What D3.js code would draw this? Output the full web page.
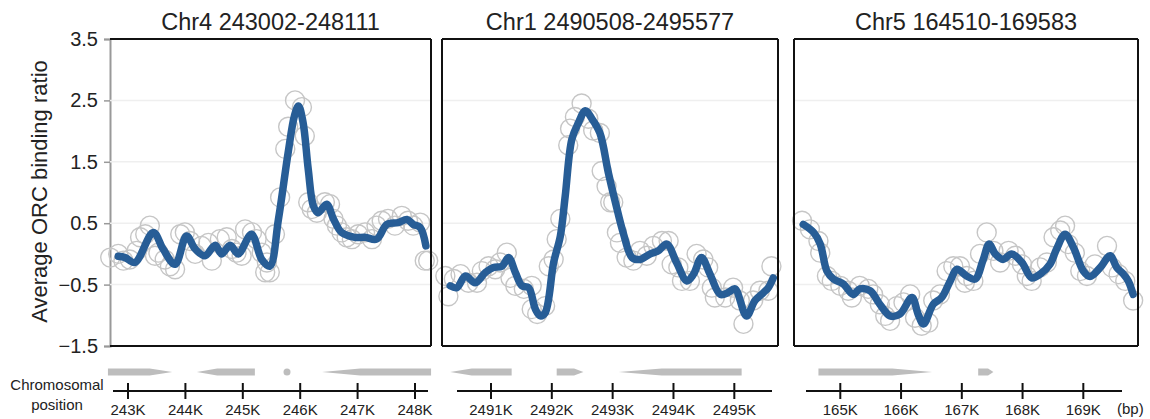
<!DOCTYPE html>
<html>
<head>
<meta charset="utf-8">
<script src="https://cdn.jsdelivr.net/npm/d3@7"></script>
<style>
  html, body { margin: 0; padding: 0; background: #fff; }
  svg { display: block; font-family: "Liberation Sans", Arial, sans-serif; }
</style>
</head>
<body>
<div id="chart"></div>
<script>
// ---- data ----
const panelTitles = ["Chr4 243002-248111", "Chr1 2490508-2495577", "Chr5 164510-169583"];
const yTicks = [3.5, 2.5, 1.5, 0.5, -0.5, -1.5];
const yTitle = "Average ORC binding ratio";

// x domains (kb) of each plot box
const p1Domain = [242.686, 248.279];
const p2Domain = [2490.195, 2495.718];
const p3Domain = [164.238, 169.9];

const p1Ticks = [243, 244, 245, 246, 247, 248];
const p2Ticks = [2491, 2492, 2493, 2494, 2495];
const p3Ticks = [165, 166, 167, 168, 169];

// smoothed average [kb, ratio]
const p1Line = [
  [242.83, -0.04], [242.95, -0.06], [243.12, -0.14], [243.44, 0.35], [243.61, 0.08],
  [243.82, -0.17], [244.02, 0.29], [244.17, 0.08], [244.34, -0.03], [244.52, 0.14],
  [244.63, 0.0], [244.78, 0.14], [244.92, 0.0], [245.15, 0.32], [245.33, -0.09],
  [245.47, -0.2], [245.62, 0.56], [245.79, 1.65], [245.90, 2.25], [245.97, 2.41],
  [246.05, 2.14], [246.14, 1.38], [246.23, 0.78], [246.31, 0.67], [246.46, 0.81],
  [246.58, 0.57], [246.72, 0.35], [246.95, 0.27], [247.13, 0.27], [247.33, 0.24],
  [247.51, 0.48], [247.71, 0.51], [247.86, 0.56], [247.97, 0.48], [248.09, 0.43],
  [248.19, 0.13]
];
const p2Line = [
  [2490.33, -0.52], [2490.44, -0.55], [2490.58, -0.36], [2490.74, -0.47], [2490.91, -0.3],
  [2491.04, -0.22], [2491.18, -0.2], [2491.29, -0.06], [2491.40, -0.3], [2491.51, -0.52],
  [2491.62, -0.55], [2491.73, -0.9], [2491.81, -1.01], [2491.89, -0.96], [2492.03, -0.14],
  [2492.14, 0.29], [2492.22, 0.94], [2492.33, 1.87], [2492.44, 2.14], [2492.55, 2.33],
  [2492.66, 2.2], [2492.79, 1.97], [2492.93, 1.32], [2493.04, 0.86], [2493.18, 0.32],
  [2493.32, -0.06], [2493.45, -0.09], [2493.62, 0.0], [2493.75, 0.05], [2493.89, 0.16],
  [2494.05, -0.14], [2494.22, -0.44], [2494.33, -0.33], [2494.46, -0.06], [2494.60, -0.33],
  [2494.77, -0.66], [2494.90, -0.63], [2495.01, -0.57], [2495.20, -1.01], [2495.34, -0.76],
  [2495.48, -0.63], [2495.56, -0.55], [2495.64, -0.39]
];
const p3Line = [
  [164.39, 0.48], [164.56, 0.35], [164.67, 0.16], [164.78, -0.28], [164.89, -0.41],
  [165.05, -0.49], [165.21, -0.66], [165.32, -0.57], [165.49, -0.6], [165.65, -0.82],
  [165.82, -1.01], [165.98, -0.98], [166.18, -0.71], [166.28, -0.98], [166.37, -1.14],
  [166.53, -0.82], [166.67, -0.71], [166.81, -0.44], [166.92, -0.25], [167.08, -0.36],
  [167.22, -0.41], [167.35, -0.1], [167.45, 0.16], [167.55, 0.0], [167.68, -0.09],
  [167.82, 0.0], [167.99, -0.14], [168.15, -0.39], [168.29, -0.33], [168.45, -0.17],
  [168.56, 0.08], [168.70, 0.32], [168.84, 0.1], [169.00, -0.28], [169.11, -0.37],
  [169.28, -0.22], [169.44, -0.03], [169.55, -0.22], [169.66, -0.33], [169.74, -0.44],
  [169.82, -0.66]
];

// raw measurements [kb, ratio]
const p1Points = [
  [242.69, -0.06], [242.83, 0.0], [242.92, -0.11], [243.03, -0.09], [243.15, 0.05],
  [243.21, 0.27], [243.30, 0.32], [243.38, 0.46], [243.47, -0.03], [243.53, 0.02],
  [243.64, -0.09], [243.73, -0.2], [243.82, -0.25], [243.91, 0.32], [243.99, 0.35],
  [244.08, 0.21], [244.17, 0.0], [244.28, 0.13], [244.40, 0.18], [244.46, -0.11],
  [244.60, 0.24], [244.72, 0.27], [244.81, 0.08], [244.89, 0.02], [244.98, -0.03],
  [245.04, 0.4], [245.16, 0.35], [245.24, 0.24], [245.33, 0.02], [245.39, -0.3],
  [245.42, -0.14], [245.47, -0.3], [245.56, 0.32], [245.65, 0.92], [245.74, 1.71],
  [245.79, 2.07], [245.91, 2.5], [246.03, 2.39], [246.08, 1.92], [246.14, 0.84],
  [246.20, 0.73], [246.29, 0.67], [246.43, 0.84], [246.52, 0.81], [246.58, 0.57],
  [246.64, 0.46], [246.72, 0.35], [246.81, 0.27], [246.90, 0.24], [247.01, 0.32],
  [247.13, 0.35], [247.25, 0.24], [247.33, 0.46], [247.42, 0.54], [247.53, 0.57],
  [247.65, 0.46], [247.77, 0.62], [247.88, 0.54], [247.97, 0.46], [248.09, 0.51],
  [248.17, -0.11], [248.23, -0.11]
];
const p2Points = [
  [2490.25, -0.36], [2490.30, -0.69], [2490.39, -0.41], [2490.50, -0.33], [2490.63, -0.47],
  [2490.77, -0.47], [2490.85, -0.28], [2490.96, -0.2], [2491.07, -0.25], [2491.15, -0.14],
  [2491.26, 0.02], [2491.32, -0.39], [2491.40, -0.52], [2491.54, -0.57], [2491.67, -0.52],
  [2491.67, -0.9], [2491.76, -0.98], [2491.89, -0.85], [2491.95, -0.2], [2492.03, -0.09],
  [2492.08, 0.24], [2492.14, 0.57], [2492.27, 1.77], [2492.30, 2.04], [2492.38, 2.23],
  [2492.49, 2.45], [2492.60, 2.2], [2492.68, 2.01], [2492.79, 1.97], [2492.82, 1.35],
  [2492.90, 1.1], [2492.96, 0.84], [2493.01, 0.84], [2493.07, 0.35], [2493.12, 0.18],
  [2493.23, -0.06], [2493.34, -0.11], [2493.45, 0.05], [2493.56, -0.03], [2493.67, 0.13],
  [2493.81, 0.21], [2493.92, 0.21], [2493.97, -0.17], [2494.08, -0.22], [2494.14, -0.44],
  [2494.27, -0.44], [2494.38, 0.0], [2494.49, -0.09], [2494.57, -0.22], [2494.63, -0.55],
  [2494.68, -0.71], [2494.85, -0.71], [2494.98, -0.55], [2495.09, -0.76], [2495.15, -1.14],
  [2495.31, -0.76], [2495.42, -0.6], [2495.56, -0.6], [2495.61, -0.2]
];
const p3Points = [
  [164.37, 0.54], [164.50, 0.4], [164.64, 0.21], [164.67, 0.02], [164.78, -0.36],
  [164.86, -0.44], [165.00, -0.52], [165.13, -0.6], [165.19, -0.71], [165.32, -0.52],
  [165.46, -0.57], [165.54, -0.66], [165.65, -0.82], [165.74, -1.01], [165.82, -1.09],
  [165.93, -0.85], [166.04, -0.79], [166.15, -0.66], [166.23, -1.04], [166.34, -1.17],
  [166.45, -1.12], [166.53, -0.76], [166.64, -0.66], [166.75, -0.28], [166.86, -0.2],
  [166.97, -0.2], [167.05, -0.47], [167.08, -0.36], [167.19, -0.44], [167.30, 0.0],
  [167.41, 0.35], [167.52, 0.05], [167.63, -0.14], [167.77, 0.05], [167.88, -0.03],
  [167.99, -0.17], [168.07, -0.36], [168.15, -0.44], [168.29, -0.22], [168.40, -0.14],
  [168.51, 0.27], [168.62, 0.38], [168.70, 0.46], [168.75, 0.16], [168.86, 0.02],
  [168.95, -0.28], [169.06, -0.36], [169.19, -0.17], [169.39, 0.13], [169.47, -0.22],
  [169.58, -0.33], [169.69, -0.44], [169.82, -0.76]
];

// genes [start kb, end kb, strand]
const p1Genes = [[242.65, 243.77, "+"], [244.20, 245.21, "-"], [245.75, 245.79, "."], [246.38, 248.28, "-"]];
const p2Genes = [[2490.33, 2491.34, "-"], [2492.08, 2492.52, "+"], [2493.10, 2495.12, "-"]];
const p3Genes = [[164.64, 166.51, "+"], [167.27, 167.52, "+"]];

const p1Labels = ["243K", "244K", "245K", "246K", "247K", "248K"];
const p2Labels = ["2491K", "2492K", "2493K", "2494K", "2495K"];
const p3Labels = ["165K", "166K", "167K", "168K", "169K"];

// ---- layout ----
const W = 1150, H = 419;
const yTop = 39, yBottom = 346;
const geneY = 372, geneH = 7;
const axisY = 391;
const lineColor = "#275d96";
const circleColor = "#c6c6c6";
const textColor = "#222";

const panels = [
  { title: panelTitles[0], domain: p1Domain, x0: 110, x1: 431, ax0: 113, ax1: 428, line: p1Line, points: p1Points, genes: p1Genes, ticks: p1Ticks, labels: p1Labels },
  { title: panelTitles[1], domain: p2Domain, x0: 442, x1: 778, ax0: 457, ax1: 772, line: p2Line, points: p2Points, genes: p2Genes, ticks: p2Ticks, labels: p2Labels },
  { title: panelTitles[2], domain: p3Domain, x0: 794, x1: 1138, ax0: 806, ax1: 1122, line: p3Line, points: p3Points, genes: p3Genes, ticks: p3Ticks, labels: p3Labels }
];

const svg = d3.select("#chart").append("svg")
  .attr("width", W)
  .attr("height", H);

const y = d3.scaleLinear().domain([-1.5, 3.5]).range([yBottom, yTop]);

// y axis title
svg.append("text")
  .attr("transform", `translate(47,${(yTop + yBottom) / 2 - 1}) rotate(-90)`)
  .attr("text-anchor", "middle")
  .attr("font-size", 22)
  .attr("fill", textColor)
  .text(yTitle);

// y axis (first panel only)
const yAxis = svg.append("g")
  .attr("transform", `translate(${panels[0].x0},0)`)
  .call(d3.axisLeft(y).tickValues(yTicks).tickSize(6).tickPadding(6).tickFormat(d3.format(".1f")));
yAxis.select(".domain").attr("stroke", "#999").attr("stroke-width", 2);
yAxis.selectAll(".tick line").attr("stroke", "#999").attr("stroke-width", 1.5);
yAxis.selectAll(".tick text")
  .attr("font-size", 20)
  .attr("fill", textColor)
  .attr("font-family", "Liberation Sans, Arial, sans-serif");

// side labels for the chromosomal axis
svg.append("text").attr("x", 57).attr("y", 390).attr("text-anchor", "middle")
  .attr("font-size", 15).attr("fill", textColor).text("Chromosomal");
svg.append("text").attr("x", 57).attr("y", 410).attr("text-anchor", "middle")
  .attr("font-size", 15).attr("fill", textColor).text("position");

panels.forEach((p, i) => {
  const x = d3.scaleLinear().domain(p.domain).range([p.x0, p.x1]);
  const g = svg.append("g");

  // title
  g.append("text")
    .attr("x", (p.x0 + p.x1) / 2)
    .attr("y", 30)
    .attr("text-anchor", "middle")
    .attr("font-size", 23.5)
    .attr("fill", textColor)
    .text(p.title);

  // grid
  g.selectAll(".grid")
    .data(yTicks.slice(1, -1))
    .enter().append("line")
    .attr("x1", p.x0).attr("x2", p.x1)
    .attr("y1", d => y(d)).attr("y2", d => y(d))
    .attr("stroke", "#efefef")
    .attr("stroke-width", 1.5);

  // raw points
  g.selectAll(".pt")
    .data(p.points)
    .enter().append("circle")
    .attr("cx", d => x(d[0]))
    .attr("cy", d => y(d[1]))
    .attr("r", 9.5)
    .attr("fill", "none")
    .attr("stroke", circleColor)
    .attr("stroke-width", 1.4);

  // smoothed line
  g.append("path")
    .datum(p.line)
    .attr("fill", "none")
    .attr("stroke", lineColor)
    .attr("stroke-width", 7.5)
    .attr("stroke-linejoin", "round")
    .attr("stroke-linecap", "round")
    .attr("d", d3.line().x(d => x(d[0])).y(d => y(d[1])).curve(d3.curveCatmullRom.alpha(0.5)));

  // frame
  const frame = g.append("g").attr("stroke", "#111").attr("stroke-width", 2).attr("fill", "none");
  frame.append("line").attr("x1", p.x0).attr("x2", p.x1).attr("y1", yTop).attr("y2", yTop);
  frame.append("line").attr("x1", p.x1).attr("x2", p.x1).attr("y1", yTop).attr("y2", yBottom);
  frame.append("line").attr("x1", p.x0).attr("x2", p.x1).attr("y1", yBottom).attr("y2", yBottom);
  if (i > 0) {
    frame.append("line").attr("x1", p.x0).attr("x2", p.x0).attr("y1", yTop).attr("y2", yBottom);
  }

  // gene track
  p.genes.forEach(([s, e, strand]) => {
    const a = x(s), b = x(e);
    const t = (b - a) * 0.35;
    const top = geneY - geneH / 2, bot = geneY + geneH / 2;
    if (strand === ".") {
      g.append("circle").attr("cx", (a + b) / 2).attr("cy", geneY).attr("r", 3.5).attr("fill", "#bdbdbd");
      return;
    }
    const pts = strand === "+"
      ? [[a, top], [b - t, top], [b, geneY], [b - t, bot], [a, bot]]
      : [[b, top], [a + t, top], [a, geneY], [a + t, bot], [b, bot]];
    g.append("path")
      .attr("d", d3.line()(pts) + "Z")
      .attr("fill", "#bdbdbd");
  });

  // chromosomal position axis
  g.append("line")
    .attr("x1", p.ax0).attr("x2", p.ax1)
    .attr("y1", axisY).attr("y2", axisY)
    .attr("stroke", "#111").attr("stroke-width", 2);
  g.selectAll(".ctick")
    .data(p.ticks)
    .enter().append("line")
    .attr("x1", d => x(d)).attr("x2", d => x(d))
    .attr("y1", axisY - 8).attr("y2", axisY + 8)
    .attr("stroke", "#111").attr("stroke-width", 2);
  g.selectAll(".clabel")
    .data(p.ticks)
    .enter().append("text")
    .attr("x", d => x(d))
    .attr("y", 415)
    .attr("text-anchor", "middle")
    .attr("font-size", 15)
    .attr("fill", textColor)
    .text((d, j) => p.labels[j]);
});

svg.append("text").attr("x", 1117).attr("y", 414)
  .attr("font-size", 15).attr("fill", textColor).text("(bp)");
</script>
</body>
</html>
